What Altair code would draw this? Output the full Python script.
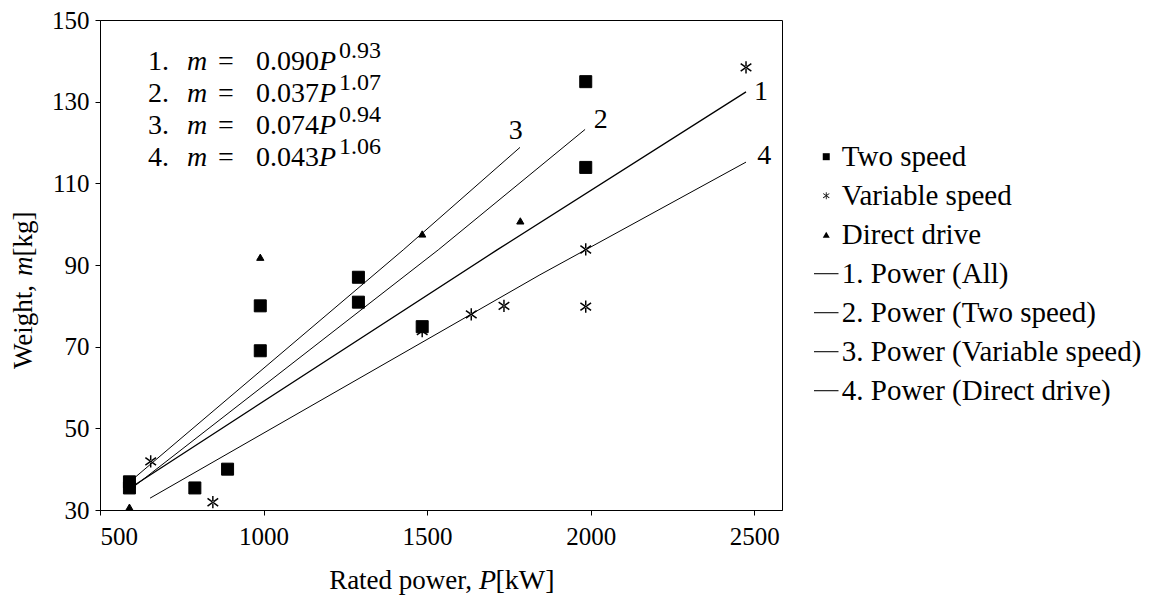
import altair as alt
import pandas as pd

FONT = "Liberation Serif, DejaVu Serif, serif"

# ---------------- data ----------------
two_speed_P = [590, 590, 790, 890, 990, 990, 1290, 1290, 1485, 1985, 1985]
two_speed_m = [36.9, 35.4, 35.4, 40.0, 80.0, 69.0, 87.0, 80.9, 74.9, 134.9, 113.9]
variable_P = [655, 845, 1485, 1635, 1735, 1985, 1985, 2475]
variable_m = [41.9, 31.9, 73.8, 77.9, 80.0, 93.8, 79.8, 138.4]
direct_P = [590, 990, 1485, 1785]
direct_m = [30.7, 91.9, 97.6, 100.8]

series_names = ["Two speed", "Variable speed", "Direct drive"]
fit_names = ["1. Power (All)", "2. Power (Two speed)",
             "3. Power (Variable speed)", "4. Power (Direct drive)"]
fit1_P = [592, 1714, 2475]
fit1_m = [35.4, 93.7, 132.4]
fit2_P = [592, 1534, 1983]
fit2_m = [35.0, 93.7, 123.2]
fit3_P = [597, 1427, 1784]
fit3_m = [37.3, 93.7, 118.8]
fit4_P = [653, 1845, 2475]
fit4_m = [32.9, 87.6, 115.2]

fit_tags = ["1", "2", "3", "4"]
tag_P = [2521, 2031, 1771, 2531]
tag_m = [132.3, 125.5, 122.7, 116.7]

coefs = ["0.090", "0.037", "0.074", "0.043"]
exps = ["0.93", "1.07", "0.94", "1.06"]

x_ticks = [500, 1000, 1500, 2000, 2500]
y_ticks = [30, 50, 70, 90, 110, 130, 150]

# ---------------- layout ----------------
W, H = 682, 490
PAD = {"left": 100, "top": 20, "right": 369, "bottom": 95}

xs = alt.Scale(domain=[500, 2585], nice=False, zero=False)
ys = alt.Scale(domain=[30, 150], nice=False, zero=False)

# filled-polygon symbols (so they render both in the plot and in the legend)
ASTER = ("M-0.12,-1H0.12V1H-0.12Z"
         "M-0.94,-0.522L0.80,0.718L0.94,0.522L-0.80,-0.718Z"
         "M-0.80,0.718L0.94,-0.522L0.80,-0.718L-0.94,0.522Z")
LINE = "M-3.5,-0.15H3.5V0.15H-3.5Z"
legend_domain = series_names + fit_names
shape_scale = alt.Scale(domain=legend_domain,
                        range=["square", ASTER, "triangle-up", LINE, LINE, LINE, LINE])
legend = alt.Legend(title=None, orient="none", legendX=711.75, legendY=122.2,
                    labelFont=FONT, labelFontSize=29, labelColor="black",
                    labelLimit=500, labelOffset=1, rowPadding=9, padding=0,
                    symbolSize=49, symbolFillColor="black", symbolStrokeColor="black",
                    symbolStrokeWidth=0, symbolOpacity=1, labelBaseline="middle")

xenc = alt.X("P:Q", scale=xs,
             axis=alt.Axis(title=None, values=x_ticks, labelFont=FONT, labelFontSize=25,
                           labelColor="black", tickColor="black", domainColor="black",
                           tickSize=5, labelPadding=9, grid=False, format="d"))
yenc = alt.Y("m:Q", scale=ys,
             axis=alt.Axis(title=None, values=y_ticks, labelFont=FONT, labelFontSize=25,
                           labelColor="black", tickColor="black", domainColor="black",
                           tickSize=5, labelPadding=6, grid=False, format="d"))


def pts(P, m, name, size, sw):
    df = pd.DataFrame({"P": P, "m": m, "series": [name] * len(P)})
    return alt.Chart(df).mark_point(filled=True, color="black", fill="black",
                                    stroke="black", strokeWidth=sw, size=size,
                                    opacity=1).encode(
        x=xenc, y=yenc, shape=alt.Shape("series:N", scale=shape_scale, legend=legend))


p1 = pts(two_speed_P, two_speed_m, series_names[0], 144, 1)
p2 = pts(variable_P, variable_m, series_names[1], 150, 0)
p3 = pts(direct_P, direct_m, series_names[2], 52, 1)

fit_rows = []
for name, Ps, ms in zip(fit_names, [fit1_P, fit2_P, fit3_P, fit4_P],
                        [fit1_m, fit2_m, fit3_m, fit4_m]):
    for a, b in zip(Ps, ms):
        fit_rows.append({"P": a, "m": b, "fit": name})
fit_df = pd.DataFrame(fit_rows)
line_main = alt.Chart(fit_df).transform_filter(
    alt.datum.fit == fit_names[0]).mark_line(color="black", strokeWidth=1.3).encode(
    x=xenc, y=yenc, detail="fit:N")
line_rest = alt.Chart(fit_df).transform_filter(
    alt.datum.fit != fit_names[0]).mark_line(color="black", strokeWidth=1.0).encode(
    x=xenc, y=yenc, detail="fit:N")

tag_df = pd.DataFrame({"P": tag_P, "m": tag_m, "t": fit_tags})
tags = alt.Chart(tag_df).mark_text(font=FONT, fontSize=28, color="black",
                                   align="center", baseline="middle").encode(
    x=xenc, y=yenc, text="t:N")

# formula block (pixel placement relative to plot origin)
base_y = [49.5, 81.5, 113.5, 145.5]
reg_rows, ital_rows, sup_rows = [], [], []
for i, (c, e) in enumerate(zip(coefs, exps)):
    by = base_y[i]
    reg_rows += [{"px": 48, "py": by, "t": f"{i + 1}."},
                 {"px": 118, "py": by, "t": "="},
                 {"px": 156, "py": by, "t": c}]
    ital_rows += [{"px": 87, "py": by, "t": "m"},
                  {"px": 219, "py": by, "t": "P"}]
    sup_rows += [{"px": 239, "py": by - 12, "t": e}]

# axis titles with italic symbols
reg_rows += [{"px": 395.5, "py": 569, "t": "[kW]"}]
right_rows = [{"px": 372, "py": 569, "t": "Rated power,"}]
ital_rows += [{"px": 379, "py": 569, "t": "P"}]


def txt(rows, size, style="normal", align="left", angle=0):
    return alt.Chart(pd.DataFrame(rows)).mark_text(
        font=FONT, fontSize=size, fontStyle=style, color="black",
        align=align, baseline="alphabetic", angle=angle).encode(
        x=alt.X("px:Q", scale=None, axis=None),
        y=alt.Y("py:Q", scale=None, axis=None),
        text="t:N")


reg_left = txt(reg_rows, 28)
reg_right = txt(right_rows, 27, align="right")
ital = txt(ital_rows, 28, style="italic")
sup = txt(sup_rows, 24)

# y title, rotated
yt_reg = [{"px": -68, "py": 349, "t": "Weight,"}, {"px": -68, "py": 236.5, "t": "[kg]"}]
yt_it = [{"px": -68, "py": 256, "t": "m"}]
ytitle1 = txt(yt_reg, 27, angle=270)
ytitle2 = txt(yt_it, 27, style="italic", angle=270)

chart = alt.layer(line_rest, line_main, p1, p2, p3, tags, reg_left, reg_right, ital, sup,
                  ytitle1, ytitle2).properties(
    width=W, height=H,
    autosize=alt.AutoSizeParams(type="none"),
    padding=PAD,
    background="white",
).configure_view(stroke="black", strokeWidth=1).configure_axis(
    domainWidth=1, tickWidth=1)

chart.save("out.html", embed_options={"renderer": "svg", "actions": False})
